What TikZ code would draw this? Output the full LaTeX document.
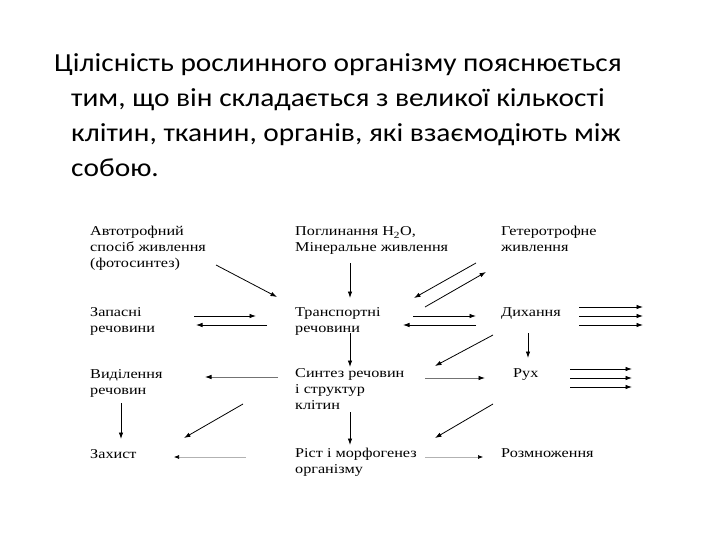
\documentclass[tikz,border=0pt]{standalone}
\usepackage{fontspec}
\setmainfont{Carlito}[FakeStretch=1.13]
\newfontfamily\schemefont[FakeStretch=1.2]{Liberation Serif}
\usepackage{tikz}
\usetikzlibrary{arrows.meta}

\begin{document}
\begin{tikzpicture}[
  x=1pt, y=-1pt,
  lbl/.style={anchor=base west, inner sep=0pt, text width=170pt, align=flush left, font=\schemefont\fontsize{13.5}{16}\selectfont},
  arr/.style={-{Latex[length=6.5pt,width=4.5pt]}, line width=0.8pt},
  grayarr/.style={arr, draw=black!55, -{Latex[length=6.5pt,width=4.5pt,color=black]}},
  palearr/.style={arr, draw=black!30, line width=0.6pt, -{Latex[length=5pt,width=4pt,color=black]}}
]
  \useasboundingbox (0,0) rectangle (720,540);

  \node[anchor=base west, inner sep=0pt, text width=640pt, align=flush left, font=\fontsize{26}{35}\selectfont] (title) at (54,72)
    {Цілісність рослинного організму пояснюється\\\hspace*{17pt}тим, що він складається з великої кількості\\\hspace*{17pt}клітин, тканин, органів, які взаємодіють між\\\hspace*{17pt}собою.};

  \node[lbl] (auto) at (90,236) {Автотрофний\\спосіб живлення\\(фотосинтез)};
  \node[lbl] (pogl) at (295,236) {Поглинання H\textsubscript{2}O,\\Мінеральне живлення};
  \node[lbl] (het) at (501,236) {Гетеротрофне\\живлення};
  \node[lbl] (zap) at (90,316) {Запасні\\речовини};
  \node[lbl] (trans) at (295,316) {Транспортні\\речовини};
  \node[lbl] (dyh) at (501,316) {Дихання};
  \node[lbl] (vyd) at (90,378) {Виділення\\речовин};
  \node[lbl] (synt) at (295,377) {Синтез речовин\\і структур\\клітин};
  \node[lbl] (ruh) at (513,377) {Рух};
  \node[lbl] (zah) at (90,458) {Захист};
  \node[lbl] (rist) at (295,457) {Ріст і морфогенез\\організму};
  \node[lbl] (rozm) at (501,457) {Розмноження};

  \draw[arr] ([shift={(126,29)}]auto.base west) -- ([shift={(-18,-19)}]trans.base west);
  \draw[arr] ([shift={(104,0)}]zap.base west) -- ([shift={(-39,0)}]trans.base west);
  \draw[arr] ([shift={(-28,9)}]trans.base west) -- ([shift={(106,9)}]zap.base west);
  \draw[arr] ([shift={(55,27)}]pogl.base west) -- ([shift={(55,-18)}]trans.base west);
  \draw[arr] ([shift={(-25,27)}]het.base west) -- ([shift={(119,-18)}]trans.base west);
  \draw[arr] ([shift={(130,-9)}]trans.base west) -- ([shift={(-15,36)}]het.base west);
  \draw[arr] ([shift={(118,0)}]trans.base west) -- ([shift={(-25,0)}]dyh.base west);
  \draw[arr] ([shift={(-25,9)}]dyh.base west) -- ([shift={(108,9)}]trans.base west);
  \foreach \dy in {-9,0,9}
    \draw[arr] ([shift={(78,\dy)}]dyh.base west) -- ([shift={(142,\dy)}]dyh.base west);
  \draw[arr] ([shift={(27,17)}]dyh.base west) -- ([shift={(15,-19)}]ruh.base west);
  \draw[arr] ([shift={(55,17)}]trans.base west) -- ([shift={(55,-10)}]synt.base west);
  \draw[arr] ([shift={(-8,19)}]dyh.base west) -- ([shift={(140,-11)}]synt.base west);
  \draw[grayarr] ([shift={(130,1)}]synt.base west) -- ([shift={(-28,1)}]ruh.base west);
  \draw[grayarr] ([shift={(-17,0)}]synt.base west) -- ([shift={(115,-1)}]vyd.base west);
  \draw[arr] ([shift={(31,25)}]vyd.base west) -- ([shift={(31,-19)}]zah.base west);
  \draw[arr] ([shift={(-52,27)}]synt.base west) -- ([shift={(94,-20)}]zah.base west);
  \draw[palearr] ([shift={(-49,0)}]rist.base west) -- ([shift={(84,-1)}]zah.base west);
  \draw[arr] ([shift={(55,35)}]synt.base west) -- ([shift={(55,-12)}]rist.base west);
  \draw[arr] ([shift={(-20,27)}]ruh.base west) -- ([shift={(140,-19)}]rist.base west);
  \draw[palearr] ([shift={(130,0)}]rist.base west) -- ([shift={(-18,0)}]rozm.base west);
  \foreach \dy in {-8,1,10}
    \draw[arr] ([shift={(57,\dy)}]ruh.base west) -- ([shift={(119,\dy)}]ruh.base west);
\end{tikzpicture}
\end{document}
